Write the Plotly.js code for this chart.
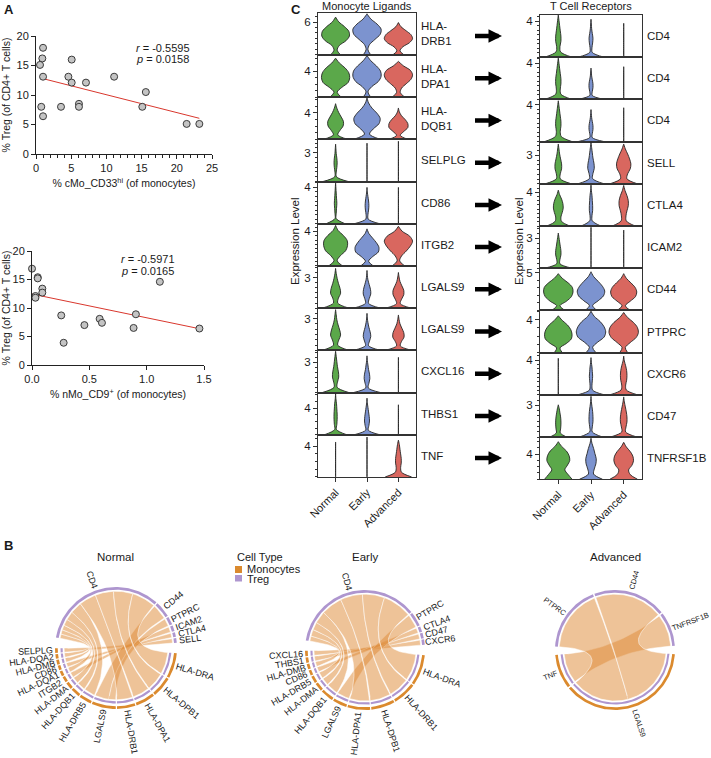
<!DOCTYPE html>
<html><head><meta charset="utf-8">
<script src="https://cdn.plot.ly/plotly-3.0.1.min.js"></script>
<style>body{margin:0;background:#fff}#chart{width:711px;height:758px}</style>
</head><body><div id="chart"></div>
<script>
// ================= DATA =================
// Panel A (top): cMo_CD33hi vs Treg
const a1X = [0.57,0.9,1.0,1.0,0.75,1.0,3.55,4.6,5.07,5.07,6.1,6.1,7.1,11.1,15.1,15.6,21.4,23.2];
const a1Y = [15.1,16.2,18.0,13.1,8.0,6.4,8.0,13.1,16.0,12.1,8.5,8.0,12.1,13.1,8.0,10.5,5.1,5.1];
const a1FitX = [0.57,23.2];
const a1FitY = [12.9,6.05];
// Panel A (bottom): nMo_CD9+ vs Treg
const a2X = [0.0,0.05,0.05,0.03,0.03,0.09,0.09,0.255,0.276,0.457,0.59,0.61,0.886,0.906,1.115,1.46];
const a2Y = [16.9,15.4,15.2,12.1,11.8,13.4,12.7,8.7,3.9,7.0,8.1,7.4,6.5,8.9,14.6,6.4];
const a2FitX = [0.0,1.46];
const a2FitY = [12.45,6.37];

// Panel C: stacked violins
const groupNames = ['Normal','Early','Advanced'];
const groupColors = ['#5BA84A','#7C93CF','#D9675F'];
const ligandGenes = ['HLA-<br>DRB1','HLA-<br>DPA1','HLA-<br>DQB1','SELPLG','CD86','ITGB2','LGALS9','LGALS9','CXCL16','THBS1','TNF'];
const ligandAxisMax = [7.7,6.5,6.4,4.4,4.65,4.9,4.15,4.0,4.2,6.35,5.5];
const ligandTick = [6,4,4,3,4,4,3,3,3,4,4];
const ligandTop = [[6.9,7.5,5.9],[6.0,6.4,5.5],[5.4,6.3,4.75],[3.9,4.0,4.2],[4.5,4.0,4.0],[4.7,4.3,4.6],[3.9,3.7,3.5],[3.85,3.5,3.35],[4.1,3.65,3.5],[6.2,5.5,4.5],[4.55,5.2,4.8]];
const ligandWidth = [
 [[0.16,0.05,0.12,0.33,0.44,0.42,0.28,0.1,0],[0.12,0.03,0.08,0.25,0.42,0.45,0.32,0.12,0],[0.18,0.05,0.14,0.35,0.45,0.4,0.24,0.08,0]],
 [[0.18,0.05,0.2,0.4,0.45,0.42,0.3,0.12,0],[0.12,0.03,0.15,0.36,0.45,0.43,0.3,0.12,0],[0.2,0.06,0.1,0.25,0.4,0.45,0.38,0.16,0]],
 [[0.38,0.07,0.14,0.24,0.25,0.18,0.1,0.04,0],[0.42,0.08,0.2,0.38,0.42,0.32,0.16,0.05,0],[0.3,0.06,0.17,0.3,0.3,0.22,0.1,0.03,0]],
 [[0.4,0.03,0.02,0.04,0.05,0.04,0.02,0.01,0],[0,0,0,0,0,0,0,0,0],[0,0,0,0,0,0,0,0,0]],
 [[0.3,0.02,0.02,0.03,0.04,0.03,0.02,0.01,0],[0.4,0.04,0.03,0.05,0.06,0.05,0.03,0.01,0],[0,0,0,0,0,0,0,0,0]],
 [[0.22,0.05,0.15,0.32,0.38,0.37,0.25,0.08,0],[0.2,0.05,0.18,0.36,0.38,0.3,0.18,0.06,0],[0.2,0.04,0.1,0.25,0.38,0.45,0.36,0.12,0]],
 [[0.42,0.07,0.09,0.16,0.14,0.09,0.05,0.02,0],[0.42,0.05,0.07,0.12,0.11,0.07,0.03,0.01,0],[0.4,0.06,0.1,0.17,0.17,0.11,0.05,0.02,0]],
 [[0.42,0.07,0.1,0.16,0.13,0.08,0.04,0.02,0],[0.42,0.05,0.08,0.12,0.1,0.06,0.03,0.01,0],[0.42,0.06,0.1,0.18,0.17,0.11,0.05,0.02,0]],
 [[0.42,0.05,0.06,0.1,0.09,0.06,0.04,0.02,0],[0.42,0.04,0.06,0.09,0.08,0.05,0.03,0.01,0],[0,0,0,0,0,0,0,0,0]],
 [[0.35,0.03,0.04,0.05,0.05,0.04,0.03,0.01,0],[0.4,0.04,0.06,0.08,0.07,0.05,0.03,0.01,0],[0,0,0,0,0,0,0,0,0]],
 [[0,0,0,0,0,0,0,0,0],[0,0,0,0,0,0,0,0,0],[0.42,0.1,0.07,0.09,0.09,0.07,0.05,0.03,0]]
];
const receptorGenes = ['CD4','CD4','CD4','SELL','CTLA4','ICAM2','CD44','PTPRC','CXCR6','CD47','TNFRSF1B'];
const receptorAxisMax = [4.67,4.65,4.55,4.45,5.0,4.2,5.57,5.1,4.85,4.0,6.75];
const receptorTick = [4,4,4,3,4,3,5,4,4,3,4];
const receptorTop = [[4.67,4.2,3.75],[4.55,3.45,3.6],[4.4,3.45,3.65],[4.2,4.35,4.2],[4.25,4.85,4.8],[3.5,4.07,3.8],[4.85,5.1,4.85],[4.45,5.0,4.85],[4.2,4.27,4.45],[3.05,3.85,3.8],[6.0,6.55,5.9]];
const receptorWidth = [
 [[0.42,0.07,0.05,0.08,0.08,0.06,0.04,0.02,0],[0.4,0.04,0.03,0.05,0.06,0.04,0.02,0.01,0],[0,0,0,0,0,0,0,0,0]],
 [[0.42,0.08,0.06,0.08,0.08,0.06,0.04,0.02,0],[0.4,0.04,0.04,0.06,0.06,0.04,0.02,0.01,0],[0,0,0,0,0,0,0,0,0]],
 [[0.42,0.09,0.06,0.08,0.08,0.06,0.04,0.02,0],[0.4,0.04,0.04,0.06,0.06,0.04,0.02,0.01,0],[0,0,0,0,0,0,0,0,0]],
 [[0.4,0.06,0.06,0.1,0.1,0.07,0.04,0.02,0],[0.4,0.05,0.06,0.1,0.09,0.06,0.04,0.02,0],[0.42,0.1,0.12,0.2,0.22,0.18,0.12,0.05,0]],
 [[0.35,0.1,0.08,0.12,0.15,0.14,0.1,0.04,0],[0.3,0.04,0.03,0.05,0.05,0.04,0.03,0.01,0],[0.35,0.08,0.07,0.1,0.14,0.14,0.1,0.04,0]],
 [[0.42,0.05,0.05,0.08,0.08,0.06,0.04,0.02,0],[0,0,0,0,0,0,0,0,0],[0,0,0,0,0,0,0,0,0]],
 [[0.2,0.05,0.25,0.4,0.45,0.43,0.3,0.12,0],[0.18,0.05,0.22,0.38,0.42,0.35,0.22,0.08,0],[0.2,0.05,0.2,0.36,0.4,0.35,0.22,0.08,0]],
 [[0.12,0.05,0.25,0.4,0.42,0.38,0.28,0.12,0],[0.15,0.05,0.2,0.4,0.45,0.4,0.28,0.1,0],[0.12,0.05,0.2,0.38,0.45,0.42,0.3,0.12,0]],
 [[0,0,0,0,0,0,0,0,0],[0.4,0.05,0.03,0.04,0.05,0.04,0.03,0.01,0],[0.42,0.08,0.06,0.09,0.1,0.09,0.06,0.02,0]],
 [[0.25,0.06,0.07,0.08,0.08,0.07,0.05,0.03,0],[0.35,0.04,0.04,0.06,0.06,0.05,0.03,0.01,0],[0.4,0.06,0.07,0.1,0.1,0.08,0.05,0.02,0]],
 [[0.42,0.3,0.2,0.28,0.35,0.33,0.25,0.1,0],[0.35,0.08,0.1,0.15,0.16,0.12,0.08,0.03,0],[0.42,0.2,0.15,0.25,0.3,0.28,0.2,0.08,0]]
];

// Panel B: chord diagrams (ligand -> receptor, weight)
const normalLigands = ['SELPLG','HLA-DQA2','HLA-DMB','CD86','HLA-DQA1','ITGB2','HLA-DMA','HLA-DQB1','HLA-DRB5','LGALS9','HLA-DRB1','HLA-DPA1','HLA-DPB1','HLA-DRA'];
const normalReceptors = ['SELL','CTLA4','ICAM2','PTPRC','CD44','CD4'];
const normalFrom = ['SELPLG','HLA-DQA2','HLA-DMB','CD86','HLA-DQA1','ITGB2','HLA-DMA','HLA-DQB1','HLA-DRB5','LGALS9','LGALS9','HLA-DRB1','HLA-DPA1','HLA-DPB1','HLA-DRA'];
const normalTo = ['SELL','CD4','CD4','CTLA4','CD4','ICAM2','CD4','CD4','CD4','CD44','PTPRC','CD4','CD4','CD4','CD4'];
const normalWeight = [4,4,4,4,4.5,5,6,8,11,14,7,16,17,18,22];

const earlyLigands = ['CXCL16','THBS1','HLA-DMB','CD86','HLA-DRB5','HLA-DMA','HLA-DQB1','LGALS9','HLA-DPA1','HLA-DPB1','HLA-DRB1','HLA-DRA'];
const earlyReceptors = ['CXCR6','CD47','CTLA4','PTPRC','CD4'];
const earlyFrom = ['CXCL16','THBS1','HLA-DMB','CD86','HLA-DRB5','HLA-DMA','HLA-DQB1','LGALS9','HLA-DPA1','HLA-DPB1','HLA-DRB1','HLA-DRA'];
const earlyTo = ['CXCR6','CD47','CD4','CTLA4','CD4','CD4','CD4','PTPRC','CD4','CD4','CD4','CD4'];
const earlyWeight = [4.5,4.5,4.5,4.5,6,7,11,12,19,20,20,26];

const advLigands = ['TNF','LGALS9'];
const advReceptors = ['TNFRSF1B','CD44','PTPRC'];
const advFrom = ['TNF','LGALS9','LGALS9'];
const advTo = ['TNFRSF1B','PTPRC','CD44'];
const advWeight = [34,66,72];

// ================= BUILD =================
const W = 711, H = 758;
const FONT = 'Liberation Sans, Arial, Helvetica, sans-serif';
const traces = [];
const layout = {
  width: W, height: H, margin: {l:0, r:0, t:0, b:0},
  paper_bgcolor: 'white', plot_bgcolor: 'rgba(0,0,0,0)', showlegend: false,
  font: {family: FONT, size: 11, color: '#1a1a1a'},
  annotations: [], shapes: []
};
const ax = (i, l) => l + 'axis' + (i === 1 ? '' : i);
const ref = (i, l) => l + (i === 1 ? '' : i);
const domX = (x0, x1) => [x0 / W, x1 / W];
const domY = (y0, y1) => [1 - y1 / H, 1 - y0 / H];
const AX = '#222';

function paperText(text, x, y, opts) {
  layout.annotations.push(Object.assign({xref:'paper', yref:'paper', x: x / W, y: 1 - y / H,
    text: text, showarrow: false, xanchor: 'center', yanchor: 'middle', font: {size: 11}}, opts || {}));
}

// ---------- Panel A ----------
function scatterPanel(i, xs, ys, fx, fy, box, xr, xdtick, xminor, xtitle, ytitle, fmt) {
  layout[ax(i,'x')] = {domain: domX(box[0], box[1]), range: xr, showline: true, linecolor: AX, linewidth: 1,
    ticks: 'outside', ticklen: 4, tickcolor: AX, tick0: 0, dtick: xdtick, tickformat: fmt,
    showgrid: false, zeroline: false, tickfont: {size: 11}, anchor: ref(i,'y'),
    minor: xminor ? {ticks: 'outside', ticklen: 2.5, dtick: xminor, tick0: 0, tickcolor: AX, showgrid: false} : undefined,
    title: {text: xtitle, font: {size: 10.5}, standoff: 6}};
  layout[ax(i,'y')] = {domain: domY(box[2], box[3]), range: [0, 20], showline: true, linecolor: AX, linewidth: 1,
    ticks: 'outside', ticklen: 4, tickcolor: AX, dtick: 5, showgrid: false, zeroline: false,
    tickfont: {size: 11}, anchor: ref(i,'x'), title: {text: ytitle, font: {size: 10.5}, standoff: 6}};
  traces.push({type:'scatter', mode:'lines', x: fx, y: fy, xaxis: ref(i,'x'), yaxis: ref(i,'y'),
    line: {color: '#D9372D', width: 1}, hoverinfo: 'skip'});
  traces.push({type:'scatter', mode:'markers', x: xs, y: ys, xaxis: ref(i,'x'), yaxis: ref(i,'y'), cliponaxis: false,
    marker: {size: 7, color: '#C4C4C4', line: {color: '#3a3a3a', width: 1}}, hoverinfo: 'skip'});
}
scatterPanel(1, a1X, a1Y, a1FitX, a1FitY, [36, 212, 36, 154], [0, 25], 5, 1,
  '% cMo_CD33<sup>hi</sup> (of monocytes)', '% Treg (of CD4+ T cells)', '');
scatterPanel(2, a2X, a2Y, a2FitX, a2FitY, [32, 204, 251, 365], [0, 1.5], 0.5, null,
  '% nMo_CD9<sup>+</sup> (of monocytes)', '% Treg (of CD4+ T cells)', '.1f');
paperText('<i>r</i> = -0.5595', 134, 48, {xanchor: 'left'});
paperText('<i>p</i> = 0.0158', 134, 59, {xanchor: 'left'});
paperText('<i>r</i> = -0.5971', 119, 259, {xanchor: 'left'});
paperText('<i>p</i> = 0.0165', 119, 271, {xanchor: 'left'});

// ---------- Panel C ----------
const ROWH = 42.2;
function violinColumn(startIdx, x0, x1, top0, genes, axMax, tickV, tops, widths, ytitleX) {
  genes.forEach((g, k) => {
    const i = startIdx + k;
    const y0 = top0 + ROWH * k, y1 = y0 + ROWH;
    const last = k === genes.length - 1;
    layout[ax(i,'x')] = {domain: domX(x0, x1), range: [0.44, 3.56], showline: true, mirror: true, linecolor: '#333', linewidth: 1,
      showgrid: false, zeroline: false, anchor: ref(i,'y'),
      ticks: last ? 'outside' : '', ticklen: 4, tickcolor: '#333', tickmode: 'array', tickvals: [1,2,3], ticktext: groupNames,
      showticklabels: last, tickangle: -45, tickfont: {size: 11}};
    layout[ax(i,'y')] = {domain: domY(y0, y1), range: [0, axMax[k]], showline: true, mirror: true, linecolor: '#333', linewidth: 1,
      showgrid: false, zeroline: false, anchor: ref(i,'x'), ticks: 'outside', ticklen: 4, tickcolor: '#333',
      tickmode: 'array', tickvals: [tickV[k]], ticktext: [String(tickV[k])], tickfont: {size: 11.5},
      minor: {ticks: 'outside', ticklen: 2, tickcolor: '#333', tickmode: 'linear', tick0: 0, dtick: axMax[k] > 5 ? 1 : 0.5, showgrid: false}};
    for (let gI = 0; gI < 3; gI++) {
      const c = gI + 1, top = tops[k][gI], w = widths[k][gI], n = w.length - 1;
      const xs = [], ys = [];
      for (let j = 0; j <= n; j++) { xs.push(c - w[j]); ys.push(top * j / n); }
      for (let j = n; j >= 0; j--) { xs.push(c + w[j]); ys.push(top * j / n); }
      traces.push({type:'scatter', mode:'lines', x: xs, y: ys, fill: 'toself', fillcolor: groupColors[gI],
        line: {color: '#262626', width: 0.9, shape: 'spline', smoothing: 0.9},
        xaxis: ref(i,'x'), yaxis: ref(i,'y'), hoverinfo: 'skip'});
    }
    layout.annotations.push({xref: ref(i,'x') + ' domain', yref: ref(i,'y') + ' domain', x: 1, y: 0.5, xshift: 3,
      xanchor: 'left', yanchor: 'middle', align: 'left', text: g, showarrow: false, font: {size: 11.5}});
  });
  paperText('Expression Level', ytitleX, 241, {textangle: -90, font: {size: 11.5}});
}
violinColumn(3, 318, 416, 12.7, ligandGenes, ligandAxisMax, ligandTick, ligandTop, ligandWidth, 295);
violinColumn(14, 540, 642, 15, receptorGenes, receptorAxisMax, receptorTick, receptorTop, receptorWidth, 519);
paperText('Monocyte Ligands', 367, 6, {font: {size: 11}});
paperText('T Cell Receptors', 591, 6, {font: {size: 11}});
// arrows between ligand and receptor rows
for (let k = 0; k < 11; k++) {
  layout.annotations.push({xref: 'paper', yref: ref(14 + k, 'y') + ' domain', x: 502 / W, y: 0.5,
    ax: -30, ay: 0, axref: 'pixel', ayref: 'pixel', text: ' ', showarrow: true,
    arrowhead: 2, arrowsize: 0.6, arrowwidth: 4.5, arrowcolor: '#000'});
}

// ---------- Panel B ----------
const ORANGE = '#DB8A2E', PURPLE = '#AE96CF', RIBBON = 'rgba(222,140,58,0.52)';
function arcPoly(r0, r1, a1, a2) {
  const xs = [], ys = [], n = Math.max(4, Math.ceil(Math.abs(a2 - a1) / 1.5));
  for (let j = 0; j <= n; j++) { const t = (a1 + (a2 - a1) * j / n) * Math.PI / 180; xs.push(r1 * Math.cos(t)); ys.push(r1 * Math.sin(t)); }
  for (let j = n; j >= 0; j--) { const t = (a1 + (a2 - a1) * j / n) * Math.PI / 180; xs.push(r0 * Math.cos(t)); ys.push(r0 * Math.sin(t)); }
  return [xs, ys];
}
function buildChord(i, cx, cy, rpx, S, ligands, receptors, from, to, weight, bigGap, smallGap, fs, title) {
  layout[ax(i,'x')] = {domain: domX(cx - S, cx + S), range: [-S / rpx, S / rpx], visible: false, anchor: ref(i,'y')};
  layout[ax(i,'y')] = {domain: domY(cy - S, cy + S), range: [-S / rpx, S / rpx], visible: false, anchor: ref(i,'x')};
  const total = weight.reduce((a, b) => a + b, 0);
  const avail = 360 - 2 * bigGap - (ligands.length - 1 + receptors.length - 1) * smallGap;
  const k = avail / (2 * total);
  const size = {};
  receptors.forEach(r => size['R:' + r] = 0); ligands.forEach(l => size['L:' + l] = 0);
  from.forEach((l, j) => { size['L:' + l] += weight[j] * k; size['R:' + to[j]] += weight[j] * k; });
  const sect = {};
  let a = bigGap / 2;
  receptors.forEach(r => { sect['R:' + r] = [a, a + size['R:' + r]]; a += size['R:' + r] + smallGap; });
  a += bigGap - smallGap;
  ligands.forEach(l => { sect['L:' + l] = [a, a + size['L:' + l]]; a += size['L:' + l] + smallGap; });
  const mid = s => (sect[s][0] + sect[s][1]) / 2;
  const ends = from.map(() => ({}));
  Object.keys(sect).forEach(s => {
    const list = [];
    from.forEach((l, j) => {
      const self = s.startsWith('L:') ? 'L:' + l : 'R:' + to[j];
      if (self !== s) return;
      const partner = s.startsWith('L:') ? 'R:' + to[j] : 'L:' + l;
      list.push({j, d: ((mid(partner) - mid(s)) % 360 + 360) % 360});
    });
    list.sort((p, q) => q.d - p.d);
    let b = sect[s][0];
    list.forEach(o => { const wdeg = weight[o.j] * k; ends[o.j][s.slice(0, 1)] = [b, b + wdeg]; b += wdeg; });
  });
  const rL = 0.85, rR = 0.93;
  from.forEach((l, j) => {
    const A = ends[j].L, B = ends[j].R;
    const xs = [], ys = [];
    const pushArc = (r, a1, a2) => { const n = Math.max(3, Math.ceil(Math.abs(a2 - a1) / 1.5));
      for (let q = 0; q <= n; q++) { const t = (a1 + (a2 - a1) * q / n) * Math.PI / 180; xs.push(r * Math.cos(t)); ys.push(r * Math.sin(t)); } };
    const pushBez = (r0, t0, r1, t1) => { const p0 = [r0 * Math.cos(t0 * Math.PI / 180), r0 * Math.sin(t0 * Math.PI / 180)];
      const p2 = [r1 * Math.cos(t1 * Math.PI / 180), r1 * Math.sin(t1 * Math.PI / 180)];
      for (let q = 1; q < 30; q++) { const t = q / 30; xs.push((1 - t) * (1 - t) * p0[0] + t * t * p2[0]); ys.push((1 - t) * (1 - t) * p0[1] + t * t * p2[1]); } };
    pushArc(rL, A[0], A[1]);
    pushBez(rL, A[1], rR, B[0]);
    pushArc(rR, B[0], B[1]);
    pushBez(rR, B[1], rL, A[0]);
    traces.push({type:'scatter', mode:'lines', x: xs, y: ys, fill: 'toself', fillcolor: RIBBON,
      line: {color: 'rgba(255,255,255,0.85)', width: 0.6}, xaxis: ref(i,'x'), yaxis: ref(i,'y'), hoverinfo: 'skip'});
  });
  Object.keys(sect).forEach(s => {
    const isL = s.startsWith('L:');
    const [xs, ys] = arcPoly(0.955, 1.0, sect[s][0], sect[s][1]);
    traces.push({type:'scatter', mode:'lines', x: xs, y: ys, fill: 'toself', fillcolor: isL ? ORANGE : PURPLE,
      line: {width: 0, color: isL ? ORANGE : PURPLE}, xaxis: ref(i,'x'), yaxis: ref(i,'y'), hoverinfo: 'skip'});
    if (isL) {
      const [xi, yi] = arcPoly(0.875, 0.91, sect[s][0], sect[s][1]);
      traces.push({type:'scatter', mode:'lines', x: xi, y: yi, fill: 'toself', fillcolor: PURPLE,
        line: {width: 0, color: PURPLE}, xaxis: ref(i,'x'), yaxis: ref(i,'y'), hoverinfo: 'skip'});
    }
    const name = s.slice(2), m = ((mid(s) % 360) + 360) % 360;
    const len = name.length * fs * 0.6;
    const rl = 1.05 + (len / 2) / rpx;
    const t = m * Math.PI / 180;
    const right = (m <= 90 || m >= 270);
    const textangle = right ? -(m > 180 ? m - 360 : m) : 180 - m;
    layout.annotations.push({xref: ref(i,'x'), yref: ref(i,'y'), x: rl * Math.cos(t), y: rl * Math.sin(t),
      text: name, showarrow: false, textangle: textangle, xanchor: 'center', yanchor: 'middle', font: {size: fs}});
  });
  paperText(title, cx, 557, {font: {size: 11.5}});
}
buildChord(25, 116, 648, 61, 100, normalLigands, normalReceptors, normalFrom, normalTo, normalWeight, 10, 1.2, 9, 'Normal');
buildChord(26, 365, 650, 60, 100, earlyLigands, earlyReceptors, earlyFrom, earlyTo, earlyWeight, 10, 1.2, 9, 'Early');
buildChord(27, 615, 650, 60, 90, advLigands, advReceptors, advFrom, advTo, advWeight, 8, 1.5, 7.5, 'Advanced');

// legend for cell type
paperText('Cell Type', 235, 556.5, {xanchor: 'left', font: {size: 11}});
paperText('Monocytes', 245, 569, {xanchor: 'left', font: {size: 11}});
paperText('Treg', 245, 578.5, {xanchor: 'left', font: {size: 11}});
layout.shapes.push({type: 'rect', xref: 'paper', yref: 'paper', x0: 235 / W, x1: 242 / W, y0: 1 - 573 / H, y1: 1 - 566 / H, fillcolor: ORANGE, line: {width: 0}});
layout.shapes.push({type: 'rect', xref: 'paper', yref: 'paper', x0: 235 / W, x1: 242 / W, y0: 1 - 581.5 / H, y1: 1 - 575 / H, fillcolor: PURPLE, line: {width: 0}});

// panel letters
paperText('<b>A</b>', 9, 10, {font: {size: 13}});
paperText('<b>B</b>', 8, 545, {font: {size: 13}});
paperText('<b>C</b>', 296, 9, {font: {size: 13}});

Plotly.newPlot('chart', traces, layout, {staticPlot: true, displayModeBar: false});
</script>
</body></html>
